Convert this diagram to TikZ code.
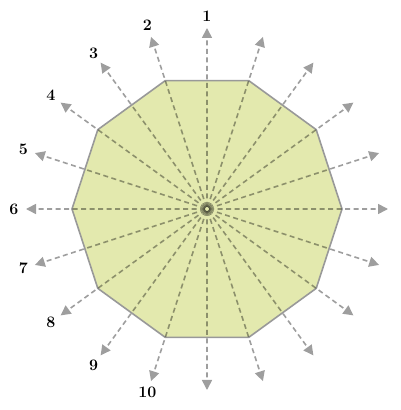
\documentclass[tikz,border=0pt]{standalone}
\usetikzlibrary{arrows.meta,calc}
\definecolor{polyfill}{HTML}{E3E9AE}
\definecolor{polyedge}{HTML}{999999}
\tikzset{
  ray/.style={draw=black, line width=1.6pt, dash pattern=on 5pt off 3.5pt,
    -{Triangle[length=10pt,width=10pt]}},
  raygroup/.style={transparency group, opacity=0.38},
  numlabel/.style={font=\fontsize{16}{16}\selectfont\bfseries, inner sep=0pt},
  poly/.style={fill=polyfill, draw=polyedge, line width=1.6pt, line join=round}
}
\begin{document}
\begin{tikzpicture}[x=1pt,y=1pt]
\useasboundingbox (0,0) rectangle (400,410);
\coordinate (c) at (207,201);
\foreach \i in {0,...,9} {
  \coordinate (v\i) at ($(c)+(36*\i:135)$);
}
\draw[poly] (v0) -- (v1) -- (v2) -- (v3) -- (v4) -- (v5) -- (v6) -- (v7) -- (v8) -- (v9) -- cycle;
\foreach \k in {0,...,19} {
  \pgfmathsetmacro{\ang}{90+18*\k}
  \coordinate (e\k) at ($(c)+(\ang:181)$);
  \begin{scope}[raygroup]
    \draw[ray] ($(c)+(\ang:2)$) -- (e\k);
  \end{scope}
}
\foreach \k in {1,...,10} {
  \pgfmathsetmacro{\ang}{90+18*(\k-1)}
  \node[numlabel] (l\k) at ($(c)+(\ang:193)$) {\k};
}
\end{tikzpicture}
\end{document}
